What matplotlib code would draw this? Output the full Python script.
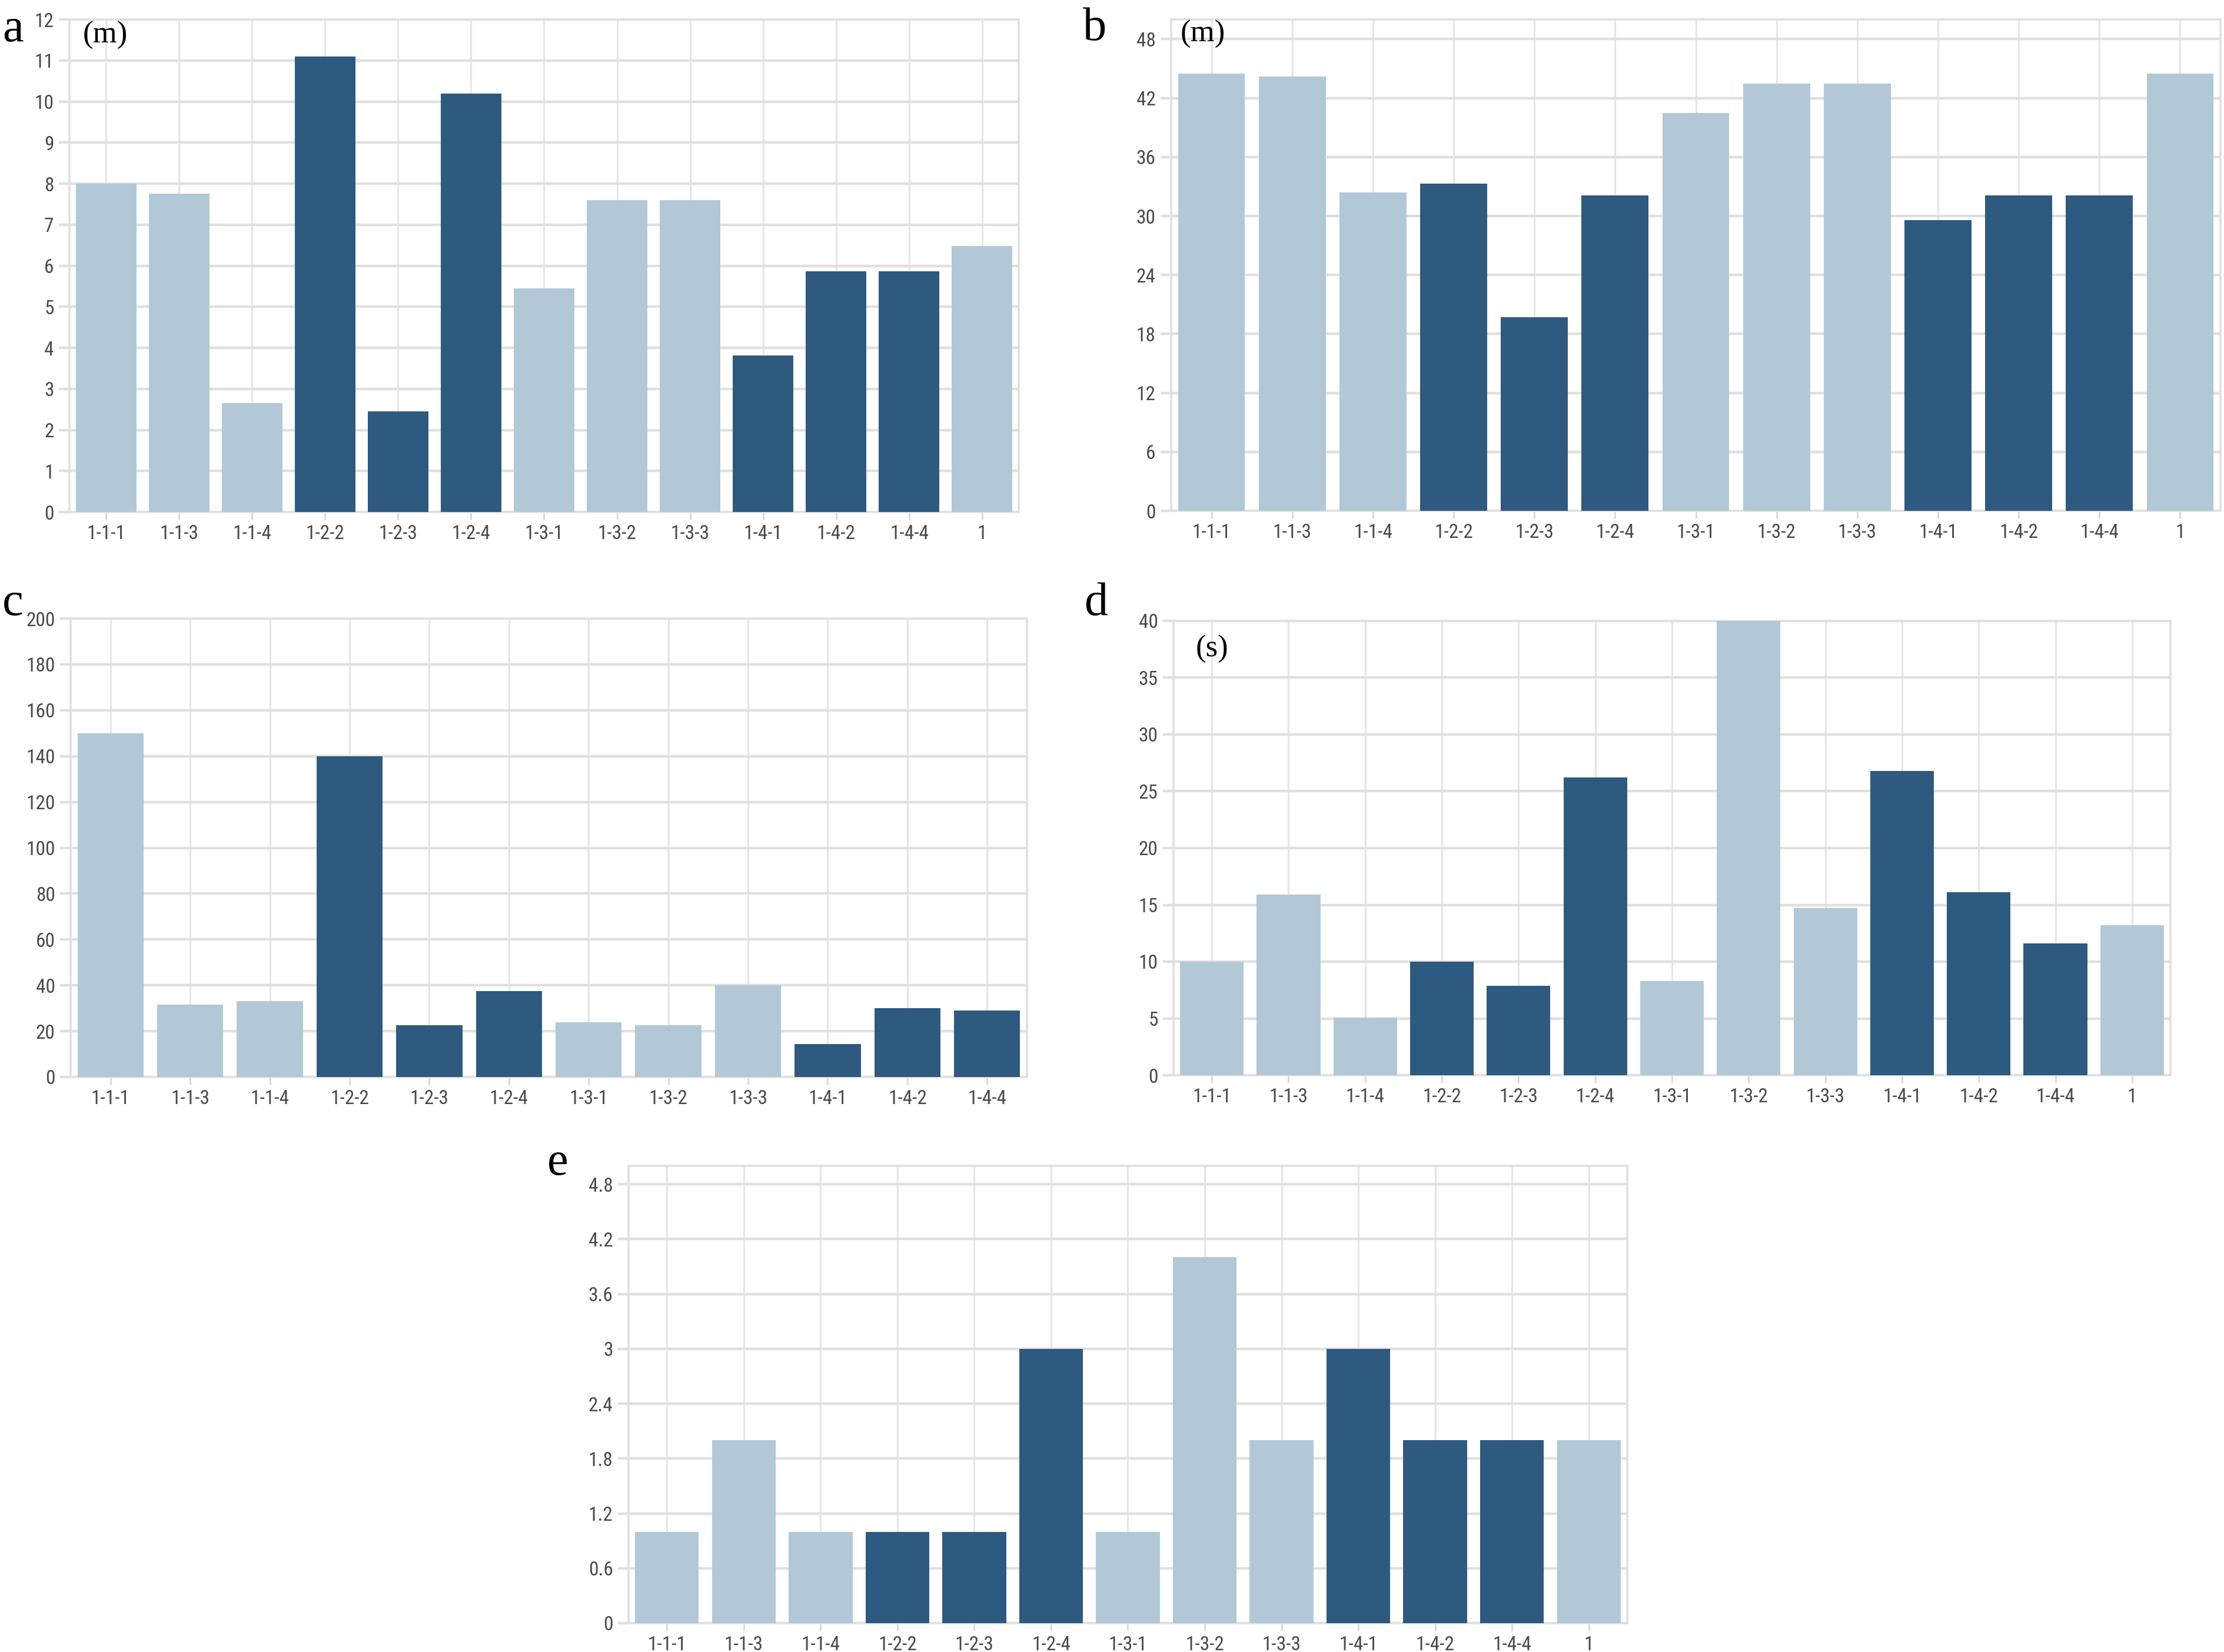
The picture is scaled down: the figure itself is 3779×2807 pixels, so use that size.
import matplotlib
matplotlib.use("Agg")
import matplotlib.pyplot as plt
from matplotlib import font_manager
import numpy as np

# ---------------- data ----------------
cats13 = ["1-1-1", "1-1-3", "1-1-4", "1-2-2", "1-2-3", "1-2-4", "1-3-1",
          "1-3-2", "1-3-3", "1-4-1", "1-4-2", "1-4-4", "1"]
cats12 = cats13[:12]

vals_a = [8.0, 7.75, 2.65, 11.1, 2.45, 10.2, 5.45, 7.6, 7.6, 3.82, 5.87, 5.87, 6.48]
vals_b = [44.5, 44.2, 32.4, 33.3, 19.7, 32.1, 40.5, 43.5, 43.5, 29.6, 32.1, 32.1, 44.5]
vals_c = [150, 31.5, 33, 140, 22.5, 37.5, 24, 22.5, 40, 14.5, 30, 29]
vals_d = [10.0, 15.9, 5.1, 10.0, 7.9, 26.2, 8.3, 40.0, 14.7, 26.8, 16.1, 11.6, 13.2]
vals_e = [1, 2, 1, 1, 1, 3, 1, 4, 2, 3, 2, 2, 2]

dark_groups = ["1-2", "1-4"]

ticks_a = list(range(0, 13))
ticks_b = list(range(0, 49, 6))
ticks_c = list(range(0, 201, 20))
ticks_d = list(range(0, 41, 5))
ticks_e = [0, 0.6, 1.2, 1.8, 2.4, 3, 3.6, 4.2, 4.8]
ticklabels_e = ["0", "0.6", "1.2", "1.8", "2.4", "3", "3.6", "4.2", "4.8"]

LIGHT = "#b3c8d6"
DARK = "#2f5a80"
GRID_H = "#e0e0e0"
GRID_V = "#e6e6e6"
TXT = "#4a4a4a"

# ---- choose a narrow sans font if one is installed ----
names = {f.name for f in font_manager.fontManager.ttflist}
tick_kw = {"family": ["DejaVu Sans"], "size": 20}
for cand in ["Liberation Sans Narrow", "Arial Narrow", "Roboto Condensed",
             "Open Sans Condensed", "Noto Sans Condensed"]:
    if cand in names:
        tick_kw = {"family": [cand, "DejaVu Sans"], "size": 24}
        break
else:
    cond = [f for f in font_manager.fontManager.ttflist
            if f.name in ("DejaVu Sans", "Noto Sans", "Open Sans", "Roboto")
            and str(f.stretch) in ("condensed", "semi-condensed", "extra-condensed", "75", "87.5")]
    if cond:
        tick_kw = {"fname": cond[0].fname, "size": 21}

if "fname" in tick_kw:
    tick_fp = font_manager.FontProperties(fname=tick_kw["fname"], size=tick_kw["size"])
else:
    tick_fp = font_manager.FontProperties(family=tick_kw["family"], size=tick_kw["size"])

W, H = 3780, 2807
fig = plt.figure(figsize=(W / 100, H / 100), dpi=100)

serif = ["Liberation Serif", "DejaVu Serif"]


def make_panel(box, cats, vals, ylim, yticks, yticklabels=None):
    l, r, t, b = box
    ax = fig.add_axes([l / W, 1 - b / H, (r - l) / W, (b - t) / H])
    x = np.arange(len(cats))
    colors = [DARK if any(c.startswith(g) for g in dark_groups) else LIGHT for c in cats]
    ax.set_axisbelow(True)
    ax.bar(x, vals, width=0.83, color=colors, zorder=3)
    ax.set_xlim(-0.5, len(cats) - 0.5)
    ax.set_ylim(*ylim)
    ax.set_yticks(yticks)
    if yticklabels is not None:
        ax.set_yticklabels(yticklabels)
    ax.set_xticks(x)
    ax.set_xticklabels(cats)
    ax.grid(axis="y", color=GRID_H, linewidth=3.2, zorder=0)
    ax.grid(axis="x", color=GRID_V, linewidth=2.2, zorder=0)
    for s in ax.spines.values():
        s.set_color(GRID_H)
        s.set_linewidth(2.6)
    ax.tick_params(axis="y", length=13, width=3.2, color=GRID_H, pad=6,
                   labelcolor=TXT)
    ax.tick_params(axis="x", length=9, width=2.0, color="#d8d8d8", pad=6,
                   labelcolor=TXT)
    for lab in ax.get_xticklabels() + ax.get_yticklabels():
        lab.set_fontproperties(tick_fp)
    return ax


ax_a = make_panel((118, 1731, 33, 870), cats13, vals_a, (0, 12), ticks_a)
ax_b = make_panel((1990, 3773, 33, 868), cats13, vals_b, (0, 50), ticks_b)
ax_c = make_panel((120, 1745, 1051, 1830), cats12, vals_c, (0, 200), ticks_c)
ax_d = make_panel((1994, 3688, 1055, 1827), cats13, vals_d, (0, 40), ticks_d)
ax_e = make_panel((1068, 2765, 1981, 2758), cats13, vals_e, (0, 5.0), ticks_e, ticklabels_e)


def fig_text(px, py, s, size, **kw):
    fig.text(px / W, 1 - py / H, s, fontsize=size, family=serif, color="black", **kw)

# panel letters
fig_text(4, 70, "a", 58, ha="left", va="baseline")
fig_text(1840, 68, "b", 58, ha="left", va="baseline")
fig_text(4, 1045, "c", 58, ha="left", va="baseline")
fig_text(1842, 1045, "d", 58, ha="left", va="baseline")
fig_text(930, 1996, "e", 58, ha="left", va="baseline")

# unit labels
fig_text(179, 60, "(m)", 38, ha="center", va="center")
fig_text(2044, 58, "(m)", 38, ha="center", va="center")
fig_text(2060, 1103, "(s)", 38, ha="center", va="center")

fig.savefig("out.png", dpi=100, facecolor="white")
